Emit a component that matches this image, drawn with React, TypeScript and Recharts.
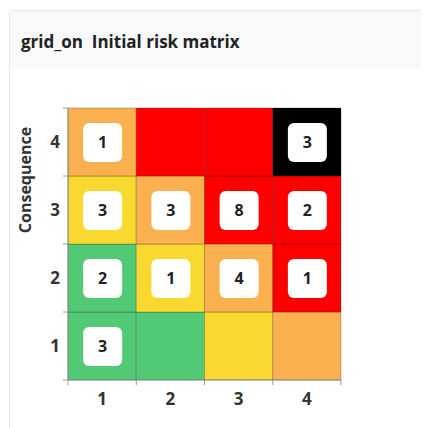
import React from 'react';
import {
  ScatterChart, Scatter, XAxis, YAxis, ReferenceArea,
} from 'recharts';

// likelihood along x, consequence along y
const likelihood = [1, 2, 3, 4];
const consequence = [1, 2, 3, 4];

// risk level per cell, rows listed from consequence 1 up to 4
const levelRows: string[][] = [
  ['low', 'low', 'medium', 'high'],
  ['low', 'medium', 'high', 'severe'],
  ['medium', 'high', 'severe', 'severe'],
  ['high', 'severe', 'severe', 'critical'],
];

// number of risks in each cell (null = empty)
const countRows: (number | null)[][] = [
  [3, null, null, null],
  [2, 1, 4, 1],
  [3, 3, 8, 2],
  [1, null, null, 3],
];

const LEVEL_COLORS: Record<string, string> = {
  low: '#52c975',
  medium: '#f9d92f',
  high: '#fbb04f',
  severe: '#ff0000',
  critical: '#000000',
};

const FONT = '"Open Sans", "Noto Sans", sans-serif';
const CHART_W = 421;
const CHART_H = 352;
const MARGIN = { top: 40, right: 88, left: 20, bottom: 10 };
const Y_AXIS_W = 40;
const X_AXIS_H = 30;
const BAND_W = (CHART_W - MARGIN.left - MARGIN.right - Y_AXIS_W) / likelihood.length;
const BAND_H = (CHART_H - MARGIN.top - MARGIN.bottom - X_AXIS_H) / consequence.length;

const cells = consequence.flatMap((c, ri) =>
  likelihood.map((l, ci) => ({ l, c, level: levelRows[ri][ci], count: countRows[ri][ci] })),
);

const badges = cells
  .filter((d) => d.count !== null)
  .map((d) => ({ x: d.l - 0.5, y: d.c - 0.5, count: d.count }));

const XTick = ({ x, y, payload }: any) => {
  if (payload.value === 0) return null;
  return (
    <text x={x - BAND_W / 2} y={y} dy={18} textAnchor="middle" fontFamily={FONT}
      fontSize={17} fontWeight={700} fill="#333">
      {payload.value}
    </text>
  );
};

const YTick = ({ x, y, payload }: any) => {
  if (payload.value === 0) return null;
  return (
    <text x={x - 1} y={y + BAND_H / 2} dy={6} textAnchor="end" fontFamily={FONT}
      fontSize={17} fontWeight={700} fill="#333">
      {payload.value}
    </text>
  );
};

const Badge = ({ cx, cy, payload }: any) => (
  <g>
    <rect x={cx - 19} y={cy - 19} width={39} height={39} rx={6} fill="#ffffff" />
    <text x={cx + 0.5} y={cy} dy={6} textAnchor="middle" fontFamily={FONT}
      fontSize={16} fontWeight={700} fill="#222">
      {payload.count}
    </text>
  </g>
);

const AxisTitle = () => (
  <g transform="translate(23, 112) rotate(-90)">
    <text x={0} y={0} textAnchor="middle"
      fontFamily={FONT} fontSize={16} fontWeight={700} fill="#333">
      Consequence
    </text>
  </g>
);

export default function App() {
  return (
    <div style={{ position: 'relative', width: 421, height: 420, overflow: 'hidden', fontFamily: FONT }}>
      <div style={{
        position: 'absolute', left: 1, top: 2, width: 520, height: 520,
        border: '1px solid #e4e6ea', borderRadius: 3, background: '#fff',
      }}>
        <div style={{
          height: 57, background: '#f8f9fb', display: 'flex', alignItems: 'center',
          paddingLeft: 11, paddingTop: 3, boxSizing: 'border-box',
          fontSize: 17, fontWeight: 700, color: '#222',
        }}>
          grid_on&nbsp;&nbsp;Initial risk matrix
        </div>
      </div>
      <div style={{ position: 'absolute', left: 0, top: 60, width: CHART_W, height: CHART_H }}>
        <ScatterChart width={CHART_W} height={CHART_H} margin={MARGIN}>
          <XAxis type="number" dataKey="x" domain={[0, 4]} ticks={[0, 1, 2, 3, 4]}
            height={X_AXIS_H} tickSize={5} tickLine={{ stroke: '#9a9a9a' }}
            axisLine={{ stroke: '#8a8a8a' }} tick={<XTick />} interval={0} />
          <YAxis type="number" dataKey="y" domain={[0, 4]} ticks={[0, 1, 2, 3, 4]}
            width={Y_AXIS_W} tickSize={5} tickLine={{ stroke: '#9a9a9a' }}
            axisLine={{ stroke: '#8a8a8a' }} tick={<YTick />} interval={0}
            label={{ content: <AxisTitle /> }} />
          {cells.map((d) => (
            <ReferenceArea key={`${d.l}-${d.c}`} x1={d.l - 1} x2={d.l} y1={d.c - 1} y2={d.c}
              fill={LEVEL_COLORS[d.level]} fillOpacity={1}
              stroke="rgba(0,0,0,0.22)" strokeWidth={1} />
          ))}
          <Scatter data={badges} shape={<Badge />} isAnimationActive={false} />
        </ScatterChart>
      </div>
    </div>
  );
}
